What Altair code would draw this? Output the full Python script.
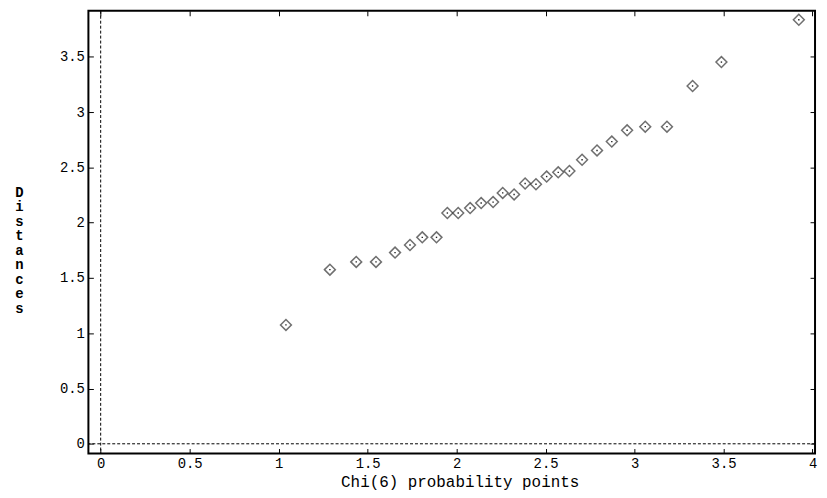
import altair as alt
import pandas as pd

# Chi(6) probability points (theoretical quantiles) and observed distances
chi_points = [1.041, 1.288, 1.436, 1.547, 1.654, 1.738, 1.807, 1.887, 1.948, 2.009,
              2.076, 2.138, 2.205, 2.259, 2.323, 2.385, 2.446, 2.506, 2.571, 2.634,
              2.705, 2.789, 2.872, 2.958, 3.060, 3.182, 3.326, 3.488, 3.923]
distances = [1.075, 1.575, 1.645, 1.645, 1.729, 1.798, 1.867, 1.867, 2.087, 2.087,
             2.132, 2.177, 2.186, 2.269, 2.255, 2.354, 2.347, 2.417, 2.455, 2.467,
             2.569, 2.653, 2.733, 2.835, 2.868, 2.868, 3.236, 3.452, 3.835]
x_ticks = [0, 0.5, 1, 1.5, 2, 2.5, 3, 3.5, 4]
y_ticks = [0, 0.5, 1, 1.5, 2, 2.5, 3, 3.5]
x_title = "Chi(6) probability points"
y_title = "Distances"
chart_title = "Chi Q-Q plot of Mahalanobis distances"

df = pd.DataFrame({"chi": chi_points, "dist": distances})
zero = pd.DataFrame({"v": [0]})
title_df = pd.DataFrame({"t": [chart_title]})

FONT = "Liberation Mono"
xs = alt.Scale(domain=[-0.069, 4.014], nice=False, zero=False)
ys = alt.Scale(domain=[-0.088, 3.916], nice=False, zero=False)

common_axis = dict(domain=False, grid=False, ticks=True, tickColor="black",
                   tickWidth=1, tickSize=5, offset=-5, labelFont=FONT,
                   labelFontSize=14, labelColor="black", format="~g")

x_bottom = alt.X("chi:Q", scale=xs, axis=alt.Axis(
    orient="bottom", values=x_ticks, title=x_title, labelPadding=3,
    titleFont=FONT, titleFontSize=16, titleFontWeight="normal", titleColor="black",
    titlePadding=3, titleX=374, labelFlush=False, **common_axis))
y_left = alt.Y("dist:Q", scale=ys, axis=alt.Axis(
    orient="left", values=y_ticks, title=list(y_title), titleAngle=0,
    titleX=-75, titleY=176, titleAlign="center", titleBaseline="top",
    titleLineHeight=14.6, titleFont=FONT, titleFontSize=14,
    titleFontWeight="bold", titleColor="black", labelPadding=4, **common_axis))

x_top = alt.X("chi:Q", scale=xs, axis=alt.Axis(
    orient="top", values=x_ticks, title="", labels=False, **common_axis))
y_right = alt.Y("dist:Q", scale=ys, axis=alt.Axis(
    orient="right", values=y_ticks, title="", labels=False, **common_axis))

vrule = alt.Chart(zero).mark_rule(color="black", strokeWidth=1, strokeDash=[3, 2]).encode(
    x=alt.X("v:Q", scale=xs, axis=None))
hrule = alt.Chart(zero).mark_rule(color="black", strokeWidth=1, strokeDash=[3, 2]).encode(
    y=alt.Y("v:Q", scale=ys, axis=None))

pts = alt.Chart(df).mark_point(shape="diamond", filled=False, size=120,
                               stroke="#333333", strokeWidth=1.5).encode(
    x=x_bottom, y=y_left)
dots = alt.Chart(df).mark_point(shape="square", filled=True, size=2,
                                color="#222222", opacity=1).encode(
    x=x_top, y=y_right)

title_txt = alt.Chart(title_df).mark_text(font=FONT, fontSize=14, color="black",
                                          baseline="alphabetic", align="center").encode(
    text="t:N", x=alt.value(380), y=alt.value(-6))

chart = alt.layer(vrule, hrule, pts, dots, title_txt).resolve_axis(
    x="independent", y="independent"
).properties(
    width=732, height=446,
    autosize=alt.AutoSizeParams(type="none"),
    padding={"left": 81, "top": 1, "right": 4, "bottom": 43},
    background="white",
).configure_view(stroke="black", strokeWidth=2)

chart.save("out.html", embed_options={"renderer": "svg", "actions": False})
